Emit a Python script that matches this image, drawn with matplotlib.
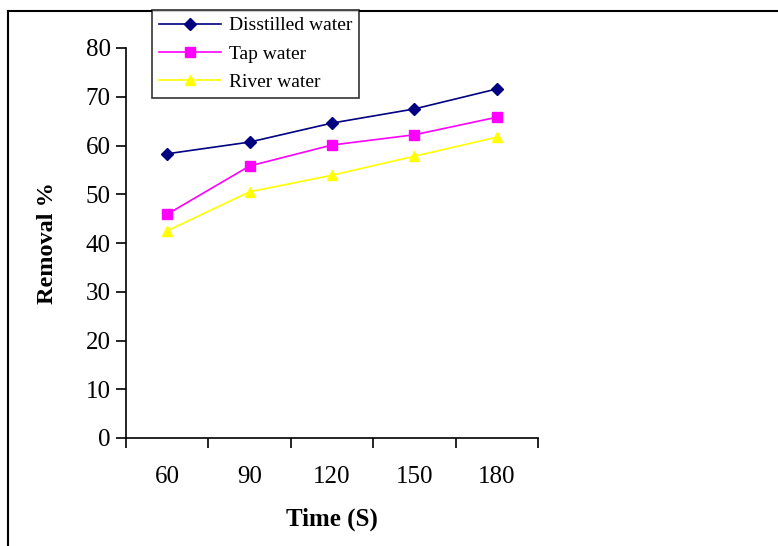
import matplotlib.pyplot as plt
from matplotlib.lines import Line2D
import numpy as np

plt.rcParams['font.family'] = ['Liberation Serif', 'DejaVu Serif']

# data
times = ['60', '90', '120', '150', '180']
distilled = [58.3, 60.7, 64.6, 67.5, 71.6]
tap = [45.9, 55.8, 60.1, 62.2, 65.8]
river = [42.5, 50.5, 53.9, 57.8, 61.7]

fig = plt.figure(figsize=(7.78, 5.46), dpi=100)
ax = fig.add_axes([126/778, 1 - 438/546, (538-126)/778, (438-48)/546])

x = np.arange(len(times)) + 0.5
ax.plot(x, distilled, color='#000080', marker='D', markersize=6, lw=1.2, label='Disstilled water')
ax.plot(x, tap, color='#FF00FF', marker='s', markersize=6.5, lw=1.2, label='Tap water')
ax.plot(x, river, color='#FFFF00', marker='^', markersize=7.5, lw=1.2, label='River water')

ax.set_xlim(0, len(times))
ax.set_ylim(0, 80)
ax.set_yticks(range(0, 81, 10))
ax.set_xticks(np.arange(len(times) + 1))
ax.set_xticklabels([])
ax.set_xticks(x, minor=True)
ax.set_xticklabels(times, minor=True)
ax.tick_params(axis='x', which='minor', length=0, pad=20, labelsize=18)
ax.tick_params(axis='x', which='major', direction='out', length=7, width=1.2)
ax.tick_params(axis='y', direction='out', length=7, width=1.2, labelsize=18, pad=4)
ax.spines['top'].set_visible(False)
ax.spines['right'].set_visible(False)
for s in ['left', 'bottom']:
    ax.spines[s].set_linewidth(1.2)

ax.set_ylabel('Removal %', fontsize=17.5, fontweight='bold', labelpad=20)
ax.set_xlabel('Time (S)', fontsize=18, fontweight='bold', labelpad=14)

leg = fig.legend(loc='upper left', bbox_to_anchor=(152/778, 1 - 10/546), fontsize=14,
                 frameon=True, fancybox=False, edgecolor='black', borderpad=0.35,
                 handlelength=3.2, handletextpad=0.4, labelspacing=0.55, borderaxespad=0)
leg.get_frame().set_linewidth(1.2)

# outer frame (top and left edges visible)
fig.add_artist(Line2D([8/778, 1.0], [1 - 11/546, 1 - 11/546], transform=fig.transFigure, color='black', lw=1.5))
fig.add_artist(Line2D([8/778, 8/778], [0, 1 - 11/546], transform=fig.transFigure, color='black', lw=1.5))

fig.savefig('out.png', dpi=100)
